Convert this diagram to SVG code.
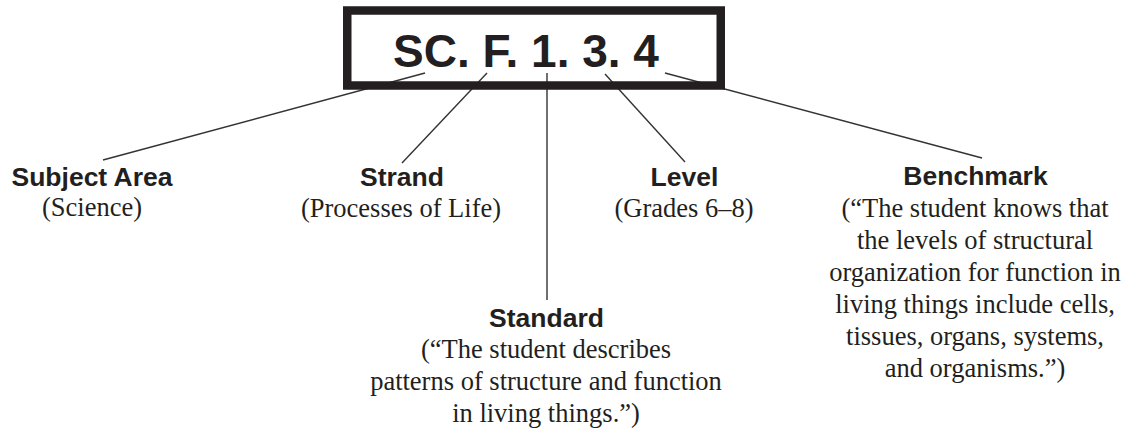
<svg xmlns="http://www.w3.org/2000/svg" width="1130" height="429" viewBox="0 0 1130 429">
<style>
.h{font-family:"Liberation Sans",Arial,sans-serif;font-weight:bold;font-size:26.5px;fill:#231f20;text-anchor:middle}
.d{font-family:"Liberation Serif","Times New Roman",serif;font-size:26.5px;fill:#231f20;text-anchor:middle}
.c line{stroke:#333;stroke-width:1.4}
</style>
<rect width="1130" height="429" fill="#fff"/>
<g class="c" id="connectors">
<line x1="425" y1="73" x2="103" y2="160"/>
<line x1="487" y1="73" x2="402" y2="163"/>
<line x1="547" y1="73" x2="547" y2="300"/>
<line x1="605" y1="74" x2="685" y2="162"/>
<line x1="665" y1="73" x2="982" y2="158"/>
</g>
<g id="code">
<rect x="347.25" y="10.5" width="373.5" height="75" fill="none" stroke="#231f20" stroke-width="8.5"/>
<text x="526" y="67" font-family="'Liberation Sans',Arial,sans-serif" font-weight="bold" font-size="46" fill="#231f20" text-anchor="middle">SC. F. 1. 3. 4</text>
</g>
<g id="subject">
<text class="h" x="92" y="186">Subject Area</text>
<text class="d" x="92" y="216">(Science)</text>
</g>
<g id="strand">
<text class="h" x="402" y="186">Strand</text>
<text class="d" x="401" y="217">(Processes of Life)</text>
</g>
<g id="level">
<text class="h" x="684.5" y="186">Level</text>
<text class="d" x="684" y="217">(Grades 6–8)</text>
</g>
<g id="standard">
<text class="h" x="546.5" y="327">Standard</text>
<text class="d" x="546" y="358">(“The student describes</text>
<text class="d" x="546" y="390">patterns of structure and function</text>
<text class="d" x="546" y="422">in living things.”)</text>
</g>
<g id="benchmark">
<text class="h" x="975.5" y="185">Benchmark</text>
<text class="d" x="975" y="217">(“The student knows that</text>
<text class="d" x="975" y="249">the levels of structural</text>
<text class="d" x="975" y="281">organization for function in</text>
<text class="d" x="975" y="313">living things include cells,</text>
<text class="d" x="975" y="345">tissues, organs, systems,</text>
<text class="d" x="975" y="377">and organisms.”)</text>
</g>
</svg>
